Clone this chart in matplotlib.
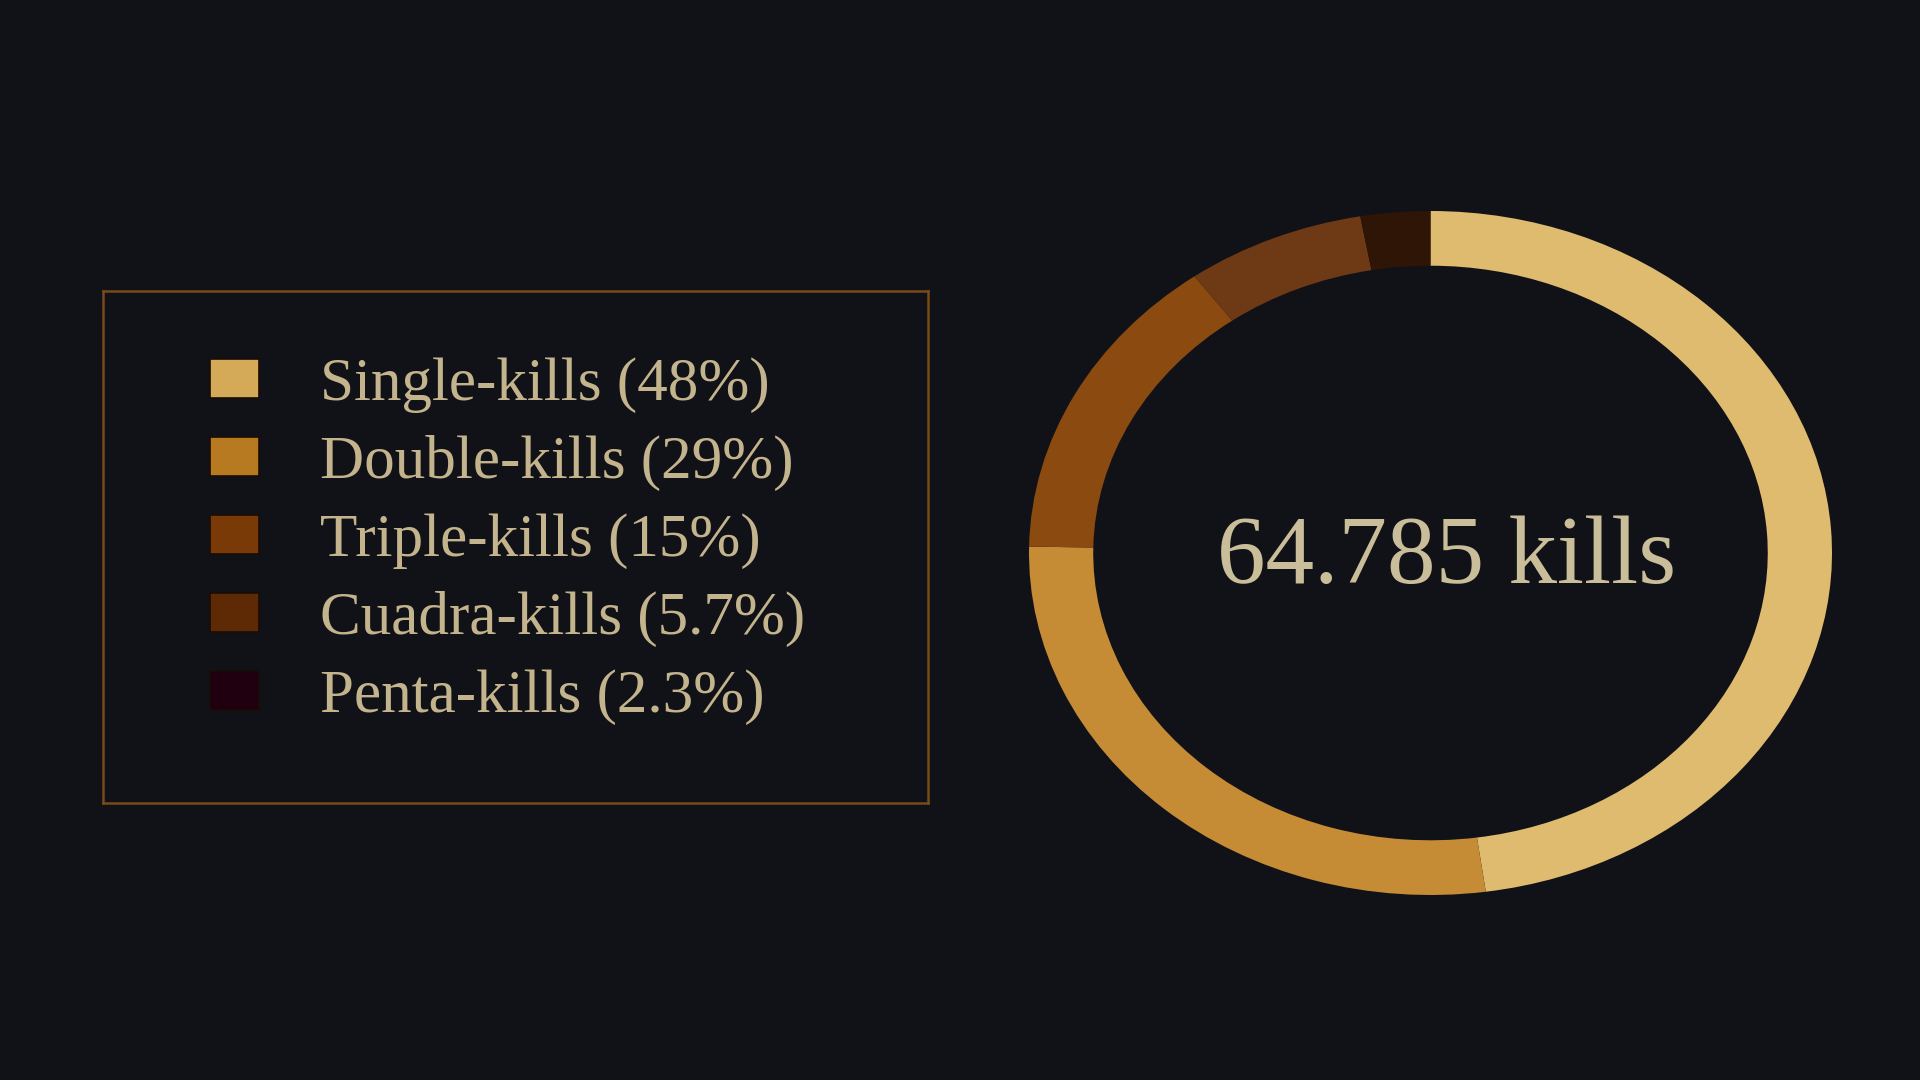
import matplotlib
matplotlib.use('Agg')
import matplotlib.pyplot as plt
from matplotlib.patches import Patch

# data
categories = ['Single-kills', 'Double-kills', 'Triple-kills', 'Cuadra-kills', 'Penta-kills']
share_labels = ['48%', '29%', '15%', '5.7%', '2.3%']
# ring sizes
ring_values = [47.8, 27.5, 14.7, 7.2, 2.8]
total_label = '64.785 kills'

ring_colors = ['#dfbb6f', '#c58b35', '#8a4a10', '#6e3915', '#2e1505']
legend_colors = ['#d4aa58', '#b87a20', '#7a3a08', '#5e2a06', '#200010']

bg = '#111217'
text_col = '#c4b48e'

plt.rcParams['font.family'] = ['Liberation Serif', 'DejaVu Serif']

fig = plt.figure(figsize=(19.2, 10.8), dpi=100, facecolor=bg)

# donut (stretched into an ellipse)
ax = fig.add_axes([1029 / 1920, (1080 - 895) / 1080, 803 / 1920, 684 / 1080])
ax.set_facecolor(bg)
ax.pie(ring_values, colors=ring_colors, startangle=90, counterclock=False,
       radius=1, wedgeprops=dict(width=0.16, linewidth=0))
ax.set_aspect('auto')
ax.set_xlim(-1, 1)
ax.set_ylim(-1, 1)
ax.axis('off')
ax.text(0.04, -0.02, total_label, ha='center', va='center', fontsize=70,
        color='#cabd9a')

# legend box
lax = fig.add_axes([103 / 1920, (1080 - 803) / 1080, 825 / 1920, 512 / 1080])
lax.set_facecolor(bg)
lax.set_xticks([])
lax.set_yticks([])
for s in lax.spines.values():
    s.set_color('#7a4a18')
    s.set_linewidth(1.8)

handles = [Patch(facecolor=c, edgecolor='#1a0c04', linewidth=1.2) for c in legend_colors]
labels = [f'{n} ({p})' for n, p in zip(categories, share_labels)]
leg = lax.legend(handles, labels, loc='upper left', bbox_to_anchor=(0.13, 0.87),
                 frameon=False, fontsize=44, labelcolor=text_col,
                 handlelength=0.8, handleheight=0.6, handletextpad=1.0,
                 labelspacing=0.36, borderaxespad=0, borderpad=0)

fig.savefig('out.png', dpi=100, facecolor=bg)
